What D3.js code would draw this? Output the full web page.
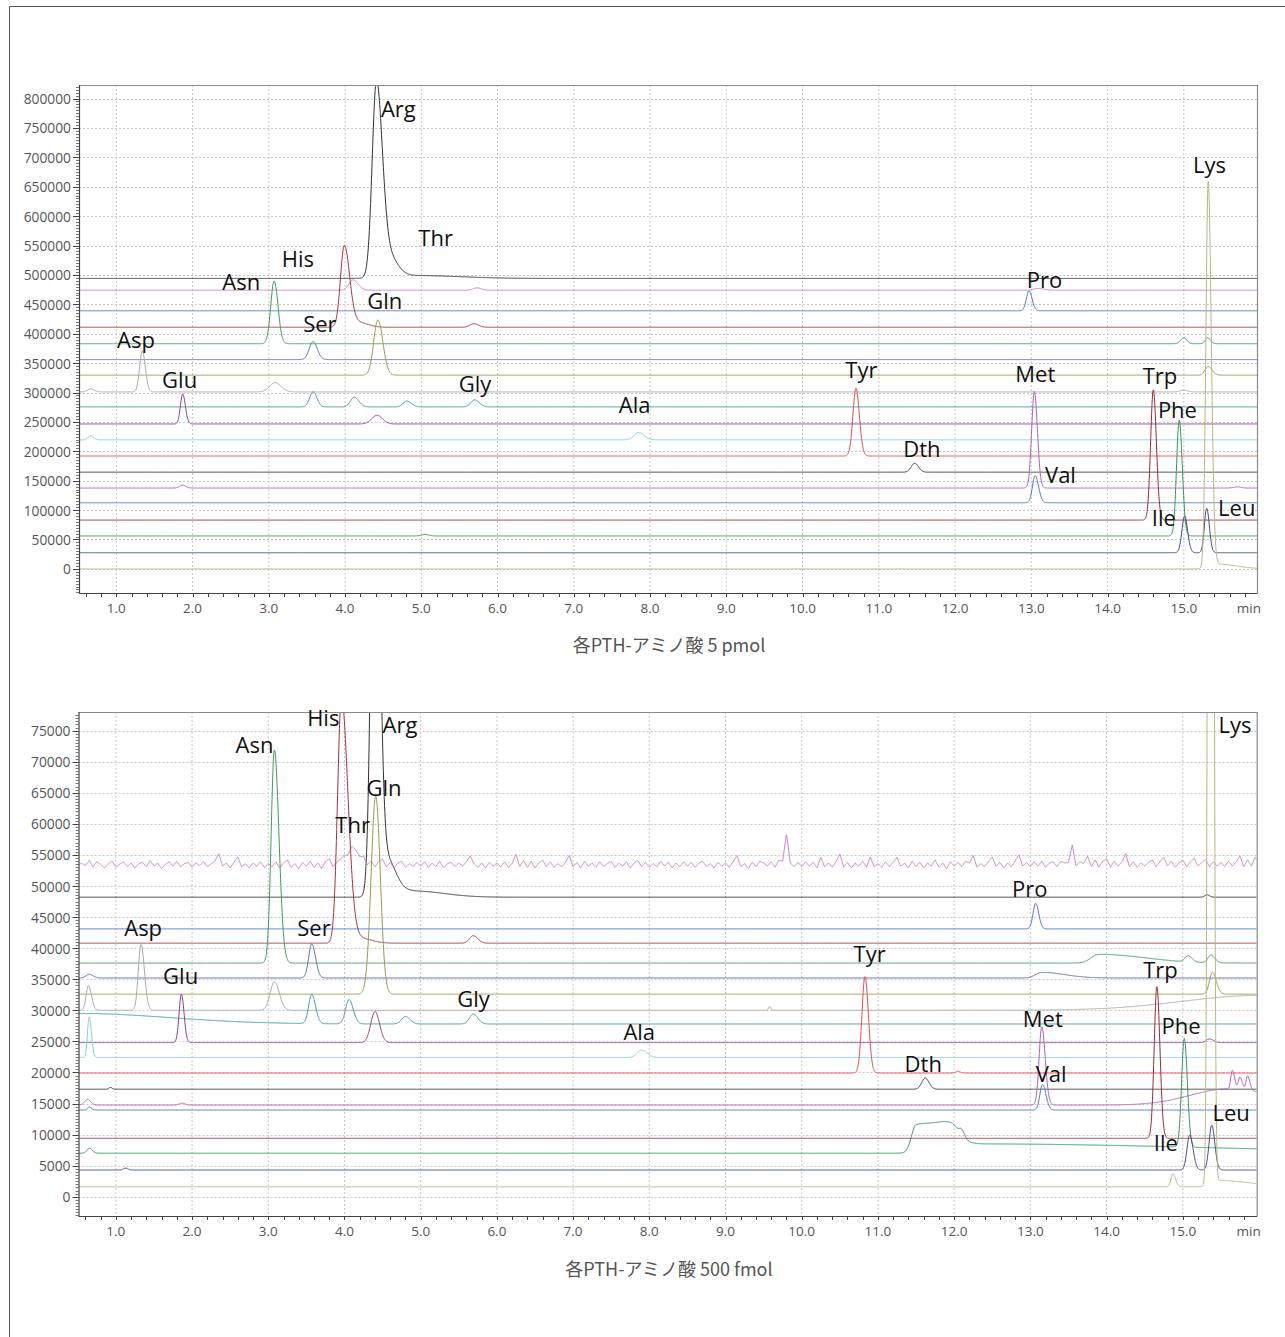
<!DOCTYPE html>
<html>
<head>
<meta charset="utf-8">
<script src="https://cdn.jsdelivr.net/npm/d3@7"></script>
<style>
  body { margin: 0; background: #fff; }
</style>
</head>
<body>
<svg id="chart"></svg>
<script>
const WIDTH = 1285;
const HEIGHT = 1337;

// one colour per detector trace, same order in both runs (top to bottom of the 5 pmol stack)
const traceColors = ['#333333', '#d07cc4', '#4a74c8', '#a8323e', '#3c9c60', '#5a6aa8', '#999950',
  '#a8a8a8', '#3a9c9c', '#8c3c9c', '#80d0e0', '#ec4c4c', '#3a3a3a', '#b060b8', '#4a74c8',
  '#a02838', '#34985a', '#3c4c8c', '#b8b880'];

// ---- 5 pmol run ----
const baseline5pmol = [494000, 474000, 439000, 411000, 383000, 356000, 329500, 301000, 275500,
  246500, 219500, 192000, 164500, 137500, 112500, 83000, 56000, 27500, 0];

// [trace, time (min), height, sigma left, sigma right]
const peaks5pmol = [
  [0, 4.41, 326000, 0.055, 0.075], [0, 4.55, 40000, 0.08, 0.12], [0, 4.9, 5000, 0.3, 0.6],
  [1, 4.10, 17500, 0.05, 0.07], [1, 5.73, 4000, 0.05, 0.05], [1, 13.08, 3000, 0.05, 0.08],
  [2, 12.97, 34000, 0.035, 0.04],
  [3, 3.99, 139000, 0.05, 0.07], [3, 4.18, 8000, 0.08, 0.12], [3, 5.69, 6000, 0.05, 0.06],
  [4, 3.07, 106700, 0.045, 0.05], [4, 15.00, 10000, 0.04, 0.04], [4, 15.31, 10000, 0.03, 0.04],
  [5, 3.58, 30600, 0.05, 0.055],
  [6, 4.43, 94000, 0.055, 0.065], [6, 15.32, 15000, 0.04, 0.05],
  [7, 1.34, 70000, 0.035, 0.04], [7, 0.66, 5000, 0.04, 0.05], [7, 3.08, 15800, 0.07, 0.08], [7, 15.0, 3000, 0.05, 0.05],
  [8, 3.58, 25500, 0.045, 0.05], [8, 4.12, 16500, 0.05, 0.06], [8, 4.81, 10000, 0.05, 0.06], [8, 5.70, 12000, 0.05, 0.06],
  [9, 1.87, 51000, 0.03, 0.035], [9, 4.42, 14800, 0.07, 0.07],
  [10, 0.66, 7000, 0.03, 0.04], [10, 7.85, 12400, 0.06, 0.07],
  [11, 10.70, 115000, 0.04, 0.045],
  [12, 11.47, 15300, 0.045, 0.05],
  [13, 13.04, 164300, 0.035, 0.04], [13, 1.87, 5000, 0.04, 0.04], [13, 15.7, 2000, 0.05, 0.05],
  [14, 13.05, 46000, 0.035, 0.045],
  [15, 14.60, 221600, 0.035, 0.04],
  [16, 14.94, 197000, 0.035, 0.04], [16, 5.05, 2500, 0.05, 0.05],
  [17, 15.01, 62400, 0.035, 0.04], [17, 15.30, 75500, 0.03, 0.035],
  [18, 15.32, 656600, 0.03, 0.04], [18, 15.45, 8000, 0.1, 0.25]
];

// [name, time, value] of the text's left/baseline point
const labels5pmol = [
  ['Arg', 4.47, 769000], ['Thr', 4.96, 549400], ['His', 3.17, 513700], ['Asn', 2.39, 474600],
  ['Gln', 4.29, 442300], ['Ser', 3.45, 403100], ['Asp', 1.01, 375900], ['Glu', 1.60, 307900],
  ['Gly', 5.49, 301100], ['Ala', 7.59, 265400], ['Tyr', 10.56, 324900], ['Dth', 11.32, 190500],
  ['Met', 12.79, 318100], ['Trp', 14.46, 314700], ['Phe', 14.66, 256900], ['Val', 13.18, 146300],
  ['Ile', 14.58, 73100], ['Leu', 15.45, 90200], ['Pro', 12.94, 478000], ['Lys', 15.12, 673600]
];

const yTicks5pmol = [0, 50000, 100000, 150000, 200000, 250000, 300000, 350000, 400000,
  450000, 500000, 550000, 600000, 650000, 700000, 750000, 800000];

// ---- 500 fmol run ----
const baseline500fmol = [48200, 53400, 43100, 40800, 37600, 35200, 32600, 30000, 27800,
  24800, 22400, 19900, 17300, 14750, 13950, 9400, 7000, 4300, 1600];

const peaks500fmol = [
  [0, 4.40, 80000, 0.05, 0.06], [0, 4.55, 6000, 0.08, 0.12], [0, 4.9, 1000, 0.2, 0.4], [0, 15.32, 400, 0.03, 0.03],
  [1, 4.10, 1500, 0.06, 0.1],
  [2, 13.07, 4100, 0.035, 0.04],
  [3, 3.96, 39500, 0.05, 0.085], [3, 4.2, 800, 0.1, 0.15], [3, 5.69, 1200, 0.05, 0.06],
  [4, 3.08, 34300, 0.042, 0.06], [4, 13.9, 1400, 0.1, 0.6], [4, 15.07, 1000, 0.04, 0.05], [4, 15.37, 1200, 0.04, 0.05],
  [5, 3.57, 5500, 0.04, 0.05], [5, 0.65, 600, 0.04, 0.05], [5, 13.15, 900, 0.08, 0.3],
  [6, 4.41, 31900, 0.06, 0.06], [6, 15.39, 3500, 0.04, 0.05],
  [7, 1.33, 10600, 0.035, 0.045], [7, 0.64, 4000, 0.03, 0.04], [7, 3.08, 4600, 0.055, 0.065],
  [7, 9.58, 600, 0.015, 0.015], [7, 16.0, 2400, 1.0, 0.1],
  [8, 0.5, 1700, 0.1, 1.2], [8, 3.57, 4700, 0.04, 0.05], [8, 4.06, 3900, 0.045, 0.055],
  [8, 4.80, 1200, 0.05, 0.06], [8, 5.69, 1600, 0.05, 0.06],
  [9, 1.86, 7800, 0.03, 0.035], [9, 4.40, 5000, 0.055, 0.06], [9, 15.35, 600, 0.04, 0.05],
  [10, 0.65, 6500, 0.022, 0.03], [10, 7.9, 1200, 0.06, 0.07],
  [11, 10.83, 15500, 0.04, 0.045], [11, 12.05, 300, 0.03, 0.03],
  [12, 11.62, 1800, 0.045, 0.05], [12, 0.93, 300, 0.02, 0.02],
  [13, 13.15, 12600, 0.035, 0.045], [13, 0.63, 900, 0.04, 0.04], [13, 1.87, 300, 0.04, 0.04],
  [13, 15.6, 2600, 0.5, 0.6], [13, 15.65, 3000, 0.02, 0.03], [13, 15.75, 2000, 0.02, 0.03], [13, 15.85, 2300, 0.02, 0.03],
  [14, 13.16, 4100, 0.035, 0.045], [14, 0.65, 500, 0.02, 0.03],
  [15, 14.66, 24400, 0.035, 0.04],
  [16, 0.65, 800, 0.03, 0.04], [16, 11.5, 4300, 0.06, 0.25], [16, 11.95, 3800, 0.2, 0.12],
  [16, 12.1, 1000, 0.03, 0.04], [16, 12.3, 1500, 0.2, 3.0], [16, 15.02, 17500, 0.035, 0.04],
  [17, 15.09, 5600, 0.035, 0.045], [17, 15.38, 7200, 0.035, 0.04], [17, 1.13, 300, 0.03, 0.03],
  [18, 15.365, 420000, 0.025, 0.028], [18, 14.87, 2100, 0.025, 0.035], [18, 15.5, 1000, 0.1, 0.4]
];

// baseline noise of the Thr trace (trace 1), one value every 0.05 min from 0.5 min
const thrNoiseStep = 0.05;
const thrNoise500fmol = [
  -200, 300, -100, 700, -300, 500, 100, -500, 200, 600,
  -400, 100, 500, -300, 300, -500, 200, 400, -300, 700,
  -200, 300, -600, 100, 500, -200, 600, -300, 200, 400,
  -400, 300, -100, 500, -300, 200, 600, 1800, -200, 300,
  -500, 400, 1300, -300, 200, -500, 300, -200, 500, -400,
  200, -300, 500, -500, 300, 800, -400, 200, -600, 400,
  -200, 600, -400, 300, -600, 500, 1000, -300, 400, 900,
  1200, 600, 1500, 1000, 400, 900, -200, 600, -300, 500,
  900, -300, 400, -500, 300, 600, -400, 200, -300, 400,
  -200, 500, -400, 300, -300, 600, -500, 200, 400, -300,
  300, -200, 500, 1400, 200, -400, 300, -500, 400, -200,
  300, -300, 500, -400, 200, 1700, -300, 700, -400, 600,
  -500, 300, 800, -300, 500, -400, 200, -300, 400, 1500,
  -300, 400, -500, 600, -200, 300, -400, 500, -300, 200,
  600, -400, 300, -200, 500, -500, 300, 700, -300, 400,
  -400, 200, -300, 600, -200, 400, -500, 300, -300, 500,
  -200, 400, -400, 300, 600, -300, 200, -500, 400, -200,
  300, -400, 500, 1500, -300, 200, -600, 400, -300, 600,
  300, -200, 500, -400, 800, 600, 5000, 300, -300, 400,
  -300, 500, -200, 400, -500, 1200, -300, 300, -400, 500,
  1800, -300, 400, -500, 300, -200, 600, -400, 1300, -300,
  200, -400, 500, -300, 400, 1200, -200, 300, -500, 600,
  -300, 400, -500, 300, -200, 800, -400, 300, -600, 500,
  -200, 400, -300, 600, 300, 1500, -400, 200, -300, 500,
  1300, -200, 400, -500, 300, -300, 600, 1600, -200, 400,
  -300, 500, -200, 600, -400, 300, 500, -300, 600, 300,
  400, 3200, -200, 500, 200, 1400, -300, 800, -400, 600,
  1000, -300, 600, -200, 400, 1800, -300, 500, -400, 300,
  -200, 400, 800, -300, 500, 1200, -200, 600, -400, 300,
  800, -300, 500, 1100, -200, 400, 900, -300, 500, -200,
  400, -300, 600, -200, 500, 1400, -300, 800, -200, 1200,
  300
];

const labels500fmol = [
  ['His', 3.51, 75700], ['Arg', 4.50, 74600], ['Asn', 2.57, 71400], ['Gln', 4.29, 64500],
  ['Thr', 3.88, 58500], ['Asp', 1.11, 41900], ['Ser', 3.38, 41900], ['Glu', 1.62, 34200],
  ['Gly', 5.48, 30500], ['Ala', 7.66, 25200], ['Pro', 12.76, 48200], ['Lys', 15.47, 74600],
  ['Tyr', 10.68, 37800], ['Trp', 14.48, 35200], ['Met', 12.90, 27300], ['Phe', 14.72, 26200],
  ['Dth', 11.35, 20100], ['Val', 13.07, 18500], ['Leu', 15.39, 12200], ['Ile', 14.62, 7400]
];

const yTicks500fmol = [0, 5000, 10000, 15000, 20000, 25000, 30000, 35000, 40000, 45000,
  50000, 55000, 60000, 65000, 70000, 75000];

const xTicks = [1.0, 2.0, 3.0, 4.0, 5.0, 6.0, 7.0, 8.0, 9.0, 10.0, 11.0, 12.0, 13.0, 14.0, 15.0];

const captions = ['各PTH-アミノ酸 5 pmol', '各PTH-アミノ酸 500 fmol'];


const svg = d3.select('#chart')
  .attr('width', WIDTH)
  .attr('height', HEIGHT)
  .style('display', 'block');

// outer frame of the figure
svg.append('path')
  .attr('d', 'M9.5,1337 L9.5,6.5 L1285,6.5')
  .attr('fill', 'none')
  .attr('stroke', '#555')
  .attr('stroke-width', 1);

drawPanel({
  id: 'p1', left: 79, top: 85, right: 1257, bottom: 593,
  xDomain: [0.51, 15.96], yDomain: [-41000, 823000], minorStep: 5000,
  baselines: baseline5pmol, peaks: peaks5pmol, labels: labels5pmol, yTicks: yTicks5pmol,
  noise: null, caption: captions[0], captionY: 644
});

drawPanel({
  id: 'p2', left: 78.5, top: 712, right: 1256.7, bottom: 1216,
  xDomain: [0.51, 15.97], yDomain: [-3100, 78000], minorStep: 500,
  baselines: baseline500fmol, peaks: peaks500fmol, labels: labels500fmol, yTicks: yTicks500fmol,
  noise: thrNoise500fmol, caption: captions[1], captionY: 1268
});

function drawPanel(cfg) {
  const x = d3.scaleLinear().domain(cfg.xDomain).range([cfg.left, cfg.right]);
  const y = d3.scaleLinear().domain(cfg.yDomain).range([cfg.bottom, cfg.top]);
  const g = svg.append('g');

  g.append('clipPath').attr('id', 'clip-' + cfg.id)
    .append('rect')
    .attr('x', cfg.left).attr('y', cfg.top)
    .attr('width', cfg.right - cfg.left).attr('height', cfg.bottom - cfg.top);

  // dashed grid
  g.append('g').selectAll('line.v').data(xTicks).enter().append('line')
    .attr('x1', d => x(d)).attr('x2', d => x(d))
    .attr('y1', cfg.top).attr('y2', cfg.bottom)
    .attr('stroke', '#c8c8c8').attr('stroke-dasharray', '2,2').attr('stroke-width', 1);
  g.append('g').selectAll('line.h').data(cfg.yTicks).enter().append('line')
    .attr('x1', cfg.left).attr('x2', cfg.right)
    .attr('y1', d => Math.round(y(d)) + 0.5).attr('y2', d => Math.round(y(d)) + 0.5)
    .attr('stroke', '#c8c8c8').attr('stroke-dasharray', '2,2').attr('stroke-width', 1);

  // traces
  const step = 0.004;
  const times = d3.range(cfg.xDomain[0], cfg.xDomain[1] + step, step);
  const line = d3.line().x(d => x(d[0])).y(d => y(d[1]));
  const traces = cfg.baselines.map((base, idx) => {
    const mine = cfg.peaks.filter(p => p[0] === idx);
    return times.map(t => {
      let v = base;
      mine.forEach(p => {
        const s = t < p[1] ? p[3] : p[4];
        const z = (t - p[1]) / s;
        if (Math.abs(z) < 9) v += p[2] * Math.exp(-0.5 * z * z);
      });
      if (idx === 1 && cfg.noise) {
        const f = (t - 0.5) / thrNoiseStep;
        const i = Math.max(0, Math.min(cfg.noise.length - 2, Math.floor(f)));
        const k = Math.max(0, Math.min(1, f - i));
        v += cfg.noise[i] * (1 - k) + cfg.noise[i + 1] * k;
      }
      return [t, v];
    });
  });

  g.append('g').attr('clip-path', 'url(#clip-' + cfg.id + ')')
    .selectAll('path').data(traces).enter().append('path')
    .attr('d', line)
    .attr('fill', 'none')
    .attr('stroke', (d, i) => traceColors[i])
    .attr('stroke-width', 1)
    .attr('stroke-linejoin', 'round');

  // frame: gray top/right, dark axes
  g.append('path')
    .attr('d', `M${cfg.left},${cfg.top + 0.5} L${cfg.right + 0.5},${cfg.top + 0.5} L${cfg.right + 0.5},${cfg.bottom}`)
    .attr('fill', 'none').attr('stroke', '#8a8a8a').attr('stroke-width', 1.2);
  g.append('path')
    .attr('d', `M${cfg.left + 0.5},${cfg.top} L${cfg.left + 0.5},${cfg.bottom + 0.5} L${cfg.right + 0.5},${cfg.bottom + 0.5}`)
    .attr('fill', 'none').attr('stroke', '#444').attr('stroke-width', 1.2);

  // y ticks
  const minor = d3.range(Math.ceil(cfg.yDomain[0] / cfg.minorStep) * cfg.minorStep, cfg.yDomain[1], cfg.minorStep);
  g.append('g').selectAll('line').data(minor).enter().append('line')
    .attr('x1', cfg.left - 3).attr('x2', cfg.left)
    .attr('y1', d => Math.round(y(d)) + 0.5).attr('y2', d => Math.round(y(d)) + 0.5)
    .attr('stroke', '#555').attr('stroke-width', 0.8);
  g.append('g').selectAll('line').data(cfg.yTicks).enter().append('line')
    .attr('x1', cfg.left - 6).attr('x2', cfg.left)
    .attr('y1', d => Math.round(y(d)) + 0.5).attr('y2', d => Math.round(y(d)) + 0.5)
    .attr('stroke', '#444').attr('stroke-width', 1);
  g.append('g').selectAll('text').data(cfg.yTicks).enter().append('text')
    .attr('x', cfg.left - 8).attr('y', d => y(d))
    .attr('text-anchor', 'end').attr('dominant-baseline', 'central')
    .attr('font-family', '"Open Sans", sans-serif').attr('font-size', 13.8)
    .attr('fill', '#555')
    .text(d => d);

  // x ticks every 0.2 min
  const xMinor = d3.range(0.6, cfg.xDomain[1], 0.2);
  g.append('g').selectAll('line').data(xMinor).enter().append('line')
    .attr('x1', d => Math.round(x(d)) + 0.5).attr('x2', d => Math.round(x(d)) + 0.5)
    .attr('y1', cfg.bottom).attr('y2', cfg.bottom + 4)
    .attr('stroke', '#444').attr('stroke-width', 1);
  g.append('g').selectAll('text').data(xTicks).enter().append('text')
    .attr('x', d => x(d)).attr('y', cfg.bottom + 15)
    .attr('text-anchor', 'middle').attr('dominant-baseline', 'central')
    .attr('font-family', '"Open Sans", sans-serif').attr('font-size', 13.5)
    .attr('fill', '#555')
    .text(d => d3.format('.1f')(d));
  g.append('text')
    .attr('x', cfg.right + 4).attr('y', cfg.bottom + 15)
    .attr('text-anchor', 'end').attr('dominant-baseline', 'central')
    .attr('font-family', '"Open Sans", sans-serif').attr('font-size', 13.5)
    .attr('fill', '#555')
    .text('min');

  // caption
  g.append('text')
    .attr('x', 669).attr('y', cfg.captionY)
    .attr('text-anchor', 'middle').attr('dominant-baseline', 'central')
    .attr('font-family', '"Noto Sans CJK JP", "Open Sans", sans-serif').attr('font-size', 18)
    .attr('fill', '#555')
    .text(cfg.caption);

  // peak names
  g.append('g').selectAll('text').data(cfg.labels).enter().append('text')
    .attr('x', d => x(d[1])).attr('y', d => y(d[2]))
    .attr('font-family', '"Open Sans", sans-serif').attr('font-size', 22)
    .attr('fill', '#111')
    .text(d => d[0]);
}
</script>
</body>
</html>
